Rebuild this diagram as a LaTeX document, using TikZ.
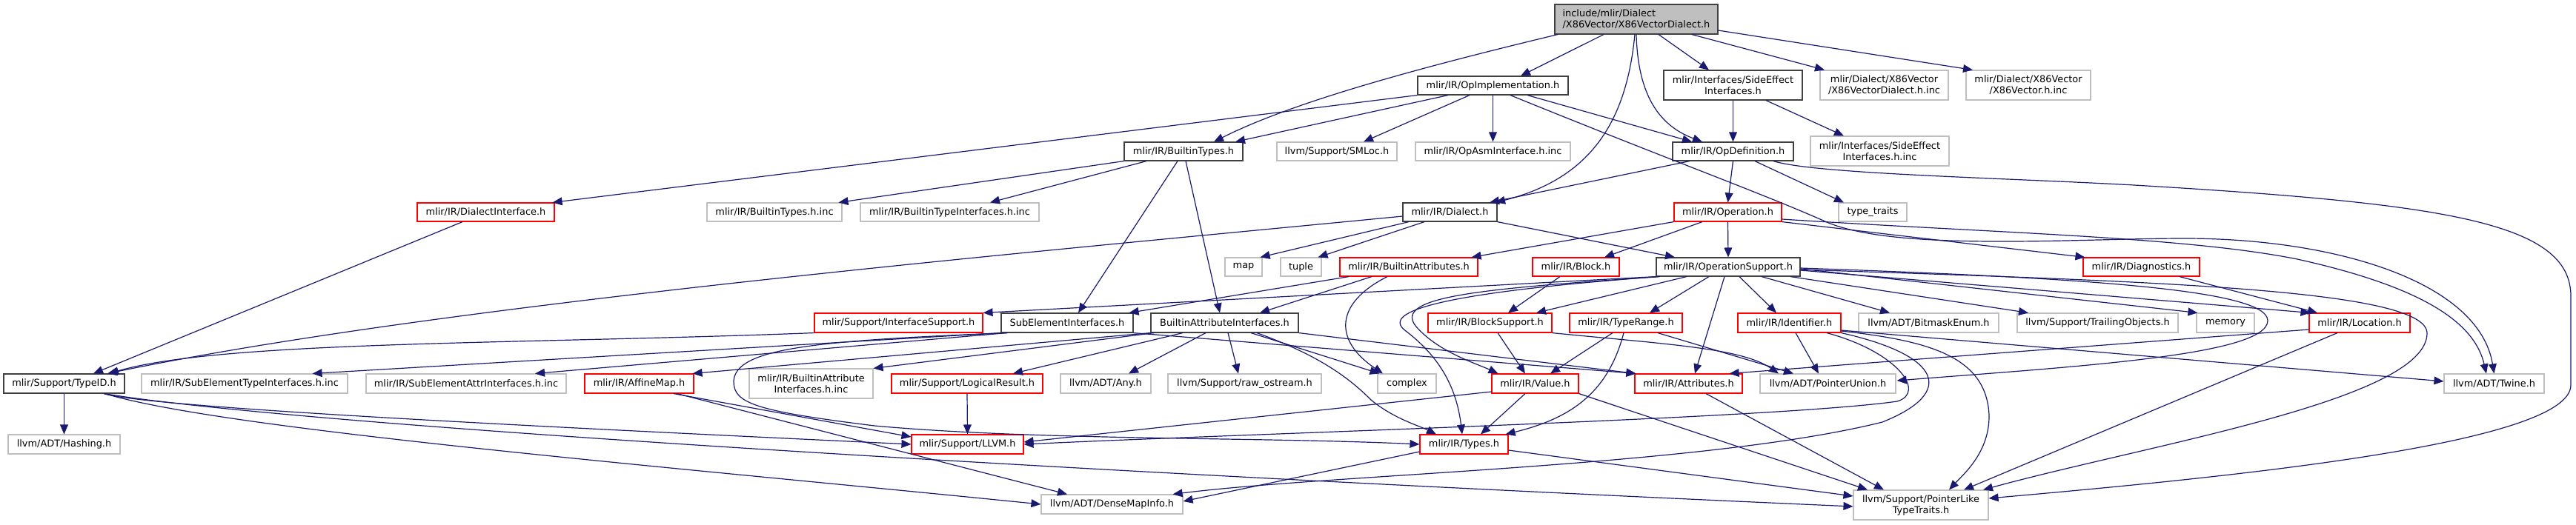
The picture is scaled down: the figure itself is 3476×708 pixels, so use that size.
\documentclass[tikz,border=0pt]{standalone}
\usepackage{fontspec}
\setmainfont{DejaVu Sans}
\usetikzlibrary{arrows.meta,calc}
\definecolor{eb}{HTML}{191970}
\definecolor{gb}{HTML}{BFBFBF}
\definecolor{rb}{HTML}{FF0000}
\definecolor{kb}{HTML}{404040}
\newcommand{\nbox}[7]{\node[#6, minimum width={(#4-#2)*0.5pt}, minimum height={(#5-#3)*0.5pt}] (#1) at ({(#2+#4)/2},{(#3+#5)/2}) {#7};}
\begin{document}
\begin{tikzpicture}[x={(0.5pt,0pt)},y={(0pt,-0.5pt)},
  box/.style={rectangle, inner sep=0pt, line width=0.55pt, fill=white, font=\fontsize{6.45pt}{7.5pt}\selectfont, text=black, align=center},
  kbox/.style={box, draw=kb}, rbox/.style={box, draw=rb}, gbox/.style={box, draw=gb},
  rootbox/.style={box, draw=kb, fill=gb, align=left},
  edge/.style={draw=eb, line width=0.6pt, -{Triangle[length=6.5pt,width=5.4pt]}}]
\useasboundingbox (0,0) rectangle (3476,708);
\fill[white] (0,0) rectangle (3476,708);
% nodes
\nbox{root}{2098}{6}{2318}{46}{rootbox}{include/mlir/Dialect\\/X86Vector/X86VectorDialect.h}
\nbox{opimpl}{1913}{103}{2116}{128}{kbox}{mlir/IR/OpImplementation.h}
\nbox{sideeff}{2245}{95}{2432}{135}{kbox}{mlir/Interfaces/SideEffect\\Interfaces.h}
\nbox{x86dinc}{2456}{95}{2629}{135}{gbox}{mlir/Dialect/X86Vector\\/X86VectorDialect.h.inc}
\nbox{x86inc}{2653}{95}{2821}{135}{gbox}{mlir/Dialect/X86Vector\\/X86Vector.h.inc}
\nbox{builtintypes}{1517}{192}{1677}{217}{kbox}{mlir/IR/BuiltinTypes.h}
\nbox{smloc}{1723}{192}{1885}{217}{gbox}{llvm/Support/SMLoc.h}
\nbox{opasm}{1910}{192}{2119}{217}{gbox}{mlir/IR/OpAsmInterface.h.inc}
\nbox{opdef}{2257}{192}{2420}{217}{kbox}{mlir/IR/OpDefinition.h}
\nbox{seinc}{2443}{184}{2630}{224}{gbox}{mlir/Interfaces/SideEffect\\Interfaces.h.inc}
\nbox{dialectif}{563}{274}{748}{299}{rbox}{mlir/IR/DialectInterface.h}
\nbox{btinc}{954}{274}{1136}{299}{gbox}{mlir/IR/BuiltinTypes.h.inc}
\nbox{btifinc}{1161}{274}{1402}{299}{gbox}{mlir/IR/BuiltinTypeInterfaces.h.inc}
\nbox{dialect}{1893}{274}{2020}{299}{kbox}{mlir/IR/Dialect.h}
\nbox{operation}{2259}{274}{2404}{299}{rbox}{mlir/IR/Operation.h}
\nbox{typetraits}{2481}{274}{2573}{299}{gbox}{type\_traits}
\nbox{map}{1653}{348}{1703}{373}{gbox}{map}
\nbox{tuple}{1728}{348}{1783}{373}{gbox}{tuple}
\nbox{battrs}{1808}{348}{1994}{373}{rbox}{mlir/IR/BuiltinAttributes.h}
\nbox{block}{2068}{348}{2185}{373}{rbox}{mlir/IR/Block.h}
\nbox{opsupport}{2235}{348}{2429}{373}{kbox}{mlir/IR/OperationSupport.h}
\nbox{diag}{2811}{348}{2968}{373}{rbox}{mlir/IR/Diagnostics.h}
\nbox{ifsupport}{1099}{423}{1326}{449}{rbox}{mlir/Support/InterfaceSupport.h}
\nbox{subel}{1351}{423}{1529}{449}{kbox}{SubElementInterfaces.h}
\nbox{baif}{1553}{423}{1752}{449}{kbox}{BuiltinAttributeInterfaces.h}
\nbox{blocksup}{1927}{423}{2094}{449}{rbox}{mlir/IR/BlockSupport.h}
\nbox{typerange}{2118}{423}{2270}{449}{rbox}{mlir/IR/TypeRange.h}
\nbox{ident}{2345}{423}{2484}{449}{rbox}{mlir/IR/Identifier.h}
\nbox{bitmask}{2508}{423}{2697}{449}{gbox}{llvm/ADT/BitmaskEnum.h}
\nbox{trailing}{2722}{423}{2939}{449}{gbox}{llvm/Support/TrailingObjects.h}
\nbox{memory}{2964}{423}{3042}{449}{gbox}{memory}
\nbox{location}{3116}{423}{3252}{449}{rbox}{mlir/IR/Location.h}
\nbox{typeid}{5}{505}{168}{531}{kbox}{mlir/Support/TypeID.h}
\nbox{seltinc}{191}{505}{469}{531}{gbox}{mlir/IR/SubElementTypeInterfaces.h.inc}
\nbox{selainc}{494}{505}{764}{531}{gbox}{mlir/IR/SubElementAttrInterfaces.h.inc}
\nbox{affine}{789}{505}{936}{531}{rbox}{mlir/IR/AffineMap.h}
\nbox{baifinc}{1011}{498}{1178}{538}{gbox}{mlir/IR/BuiltinAttribute\\Interfaces.h.inc}
\nbox{logical}{1203}{505}{1407}{531}{rbox}{mlir/Support/LogicalResult.h}
\nbox{any}{1431}{505}{1553}{531}{gbox}{llvm/ADT/Any.h}
\nbox{rawos}{1576}{505}{1783}{531}{gbox}{llvm/Support/raw\_ostream.h}
\nbox{complex}{1859}{505}{1938}{531}{gbox}{complex}
\nbox{value}{2013}{505}{2130}{531}{rbox}{mlir/IR/Value.h}
\nbox{attrs}{2206}{505}{2351}{531}{rbox}{mlir/IR/Attributes.h}
\nbox{ptrunion}{2375}{505}{2558}{531}{gbox}{llvm/ADT/PointerUnion.h}
\nbox{twine}{3298}{505}{3433}{531}{gbox}{llvm/ADT/Twine.h}
\nbox{hashing}{11}{587}{162}{613}{gbox}{llvm/ADT/Hashing.h}
\nbox{llvmh}{1230}{587}{1381}{613}{rbox}{mlir/Support/LLVM.h}
\nbox{types}{1916}{587}{2035}{613}{rbox}{mlir/IR/Types.h}
\nbox{densemap}{1405}{668}{1596}{694}{gbox}{llvm/ADT/DenseMapInfo.h}
\nbox{ptrlike}{2501}{662}{2683}{702}{gbox}{llvm/Support/PointerLike\\TypeTraits.h}
% root
\draw[edge] ($(root.south)+(-106,0)$) .. controls (1900,95) and (1740,140) .. ($(builtintypes.north)+(41,0)$);
\draw[edge] ($(root.south)+(-44,0)$) -- ($(opimpl.north)+(37.5,0)$);
\draw[edge] ($(root.south)+(-2,0)$) .. controls (2195,160) and (2150,240) .. ($(dialect.north)+(61.5,0)$);
\draw[edge] (root.south) .. controls (2210,130) and (2240,170) .. ($(opdef.north)+(-41.5,0)$);
\draw[edge] ($(root.south)+(30,0)$) -- ($(sideeff.north)+(-32.5,0)$);
\draw[edge] ($(root.south)+(75,0)$) -- ($(x86dinc.north)+(-80.5,0)$);
\draw[edge] ($(root.east)+(0,15)$) -- ($(x86inc.north)+(-75,0)$);
% opimpl
\draw[edge] ($(opimpl.south)+(-60.5,0)$) -- ($(builtintypes.north)+(70,0)$);
\draw[edge] (opimpl.south west) -- ($(dialectif.north east)+(-3,0)$);
\draw[edge] ($(opimpl.south)+(-31.5,0)$) -- ($(smloc.north)+(36,0)$);
\draw[edge] (opimpl.south) -- (opasm.north);
\draw[edge] ($(opimpl.south)+(46.5,0)$) -- ($(opdef.north)+(-55.5,0)$);
\draw[edge] ($(opimpl.south)+(23.5,0)$) .. controls (2250,215) and (2380,262) .. (2465,300) .. controls (2560,340) and (2800,322) .. (2948,322) .. controls (3150,322) and (3345,380) .. (twine.north);
% sideeffect
\draw[edge] (sideeff.south) -- (opdef.north);
\draw[edge] ($(sideeff.south)+(44.5,0)$) -- ($(seinc.north)+(-48.5,0)$);
% opdef
\draw[edge] ($(opdef.south)+(-58.5,0)$) -- ($(dialect.north)+(53.5,0)$);
\draw[edge] (opdef.south) -- (operation.north);
\draw[edge] ($(opdef.south)+(29.5,0)$) -- ($(typetraits.north)+(-39,0)$);
\draw[edge] ($(opdef.south)+(54.5,0)$) .. controls (2450,235) and (2700,240) .. (2880,250) .. controls (3300,275) and (3469,300) .. (3469,400) -- (3469,520) .. controls (3469,600) and (3000,645) .. ($(ptrlike.east)+(0,-9)$);
% dialect
\draw[edge] ($(dialect.west)+(0,5.5)$) .. controls (1400,340) and (600,410) .. ($(typeid.north)+(58.5,0)$);
\draw[edge] ($(dialect.south)+(-55.5,0)$) -- ($(map.north east)+(-3,0)$);
\draw[edge] ($(dialect.south)+(-34.5,0)$) -- ($(tuple.north east)+(-5,0)$);
\draw[edge] (dialect.south east) -- ($(opsupport.north)+(-72,0)$);
% operation
\draw[edge] (operation.south west) -- ($(battrs.north east)+(-9,0)$);
\draw[edge] ($(operation.south)+(-34.5,0)$) -- ($(block.north)+(38.5,0)$);
\draw[edge] (operation.south) -- (opsupport.north);
\draw[edge] (operation.south east) -- ($(diag.north west)+(3,0)$);
\draw[edge] ($(operation.east)+(0,9.5)$) .. controls (2700,315) and (2950,320) .. (3100,350) .. controls (3280,390) and (3340,440) .. ($(twine.north)+(-10.5,0)$);
% builtinattributes
\draw[edge] ($(battrs.south)+(-81,0)$) -- ($(subel.north east)+(-6,0)$);
\draw[edge] ($(battrs.south)+(-50,0)$) -- ($(baif.north)+(47.5,0)$);
\draw[edge] ($(battrs.south)+(-29,0)$) .. controls (1800,410) and (1800,460) .. ($(complex.north)+(-32.5,0)$);
% block
\draw[edge] ($(block.south)+(-21.5,0)$) -- ($(blocksup.north)+(24.5,0)$);
% operation support
\draw[edge] (opsupport.south west) -- (ifsupport.north east);
\draw[edge] ($(opsupport.south)+(-56,0)$) -- ($(blocksup.north)+(62.5,0)$);
\draw[edge] ($(opsupport.south)+(-26,0)$) -- ($(typerange.north)+(32,0)$);
\draw[edge] ($(opsupport.south)+(-5,0)$) -- ($(attrs.north)+(8.5,0)$);
\draw[edge] ($(opsupport.south)+(-92,0)$) .. controls (2000,390) and (1880,400) .. (1910,440) .. controls (1940,475) and (1990,490) .. ($(value.north west)+(9,0)$);
\draw[edge] ($(opsupport.south)+(-94,0)$) .. controls (1950,395) and (1860,420) .. (1897,447) .. controls (1940,480) and (1965,520) .. ($(types.north)+(-2.5,0)$);
\draw[edge] ($(opsupport.south)+(15,0)$) -- ($(ident.north)+(-17.5,0)$);
\draw[edge] ($(opsupport.south)+(45,0)$) -- ($(bitmask.north)+(-52.5,0)$);
\draw[edge] ($(opsupport.south)+(84,0)$) -- ($(trailing.north)+(-93.5,0)$);
\draw[edge] ($(opsupport.east)+(0,2.5)$) -- ($(memory.north west)+(2,0)$);
\draw[edge] ($(opsupport.east)+(0,4.5)$) -- ($(location.north west)+(2,0)$);
\draw[edge] ($(opsupport.east)+(0,1.5)$) .. controls (2800,375) and (3060,390) .. (3060,433) .. controls (3060,480) and (2800,495) .. ($(ptrunion.east)+(1,-4)$);
\draw[edge] ($(opsupport.east)+(0,3.5)$) .. controls (2900,380) and (3275,390) .. (3275,450) .. controls (3275,540) and (2900,600) .. ($(ptrlike.north)+(84,0)$);
% diagnostics
\draw[edge] ($(diag.south)+(51.5,0)$) -- ($(location.north)+(-57,0)$);
% interface support
\draw[edge] (ifsupport.south west) .. controls (700,465) and (300,460) .. ($(typeid.north)+(60.5,0)$);
% subelement interfaces
\draw[edge] (subel.south west) -- ($(seltinc.north east)+(-48,0)$);
\draw[edge] ($(subel.south)+(-81,0)$) -- ($(selainc.north)+(93,0)$);
\draw[edge] (subel.south east) -- ($(attrs.north west)+(2,0)$);
\draw[edge] ($(subel.south)+(-80,0)$) .. controls (1100,460) and (992,470) .. (990,515) .. controls (990,545) and (1020,555) .. (1180,575) .. controls (1400,595) and (1700,590) .. (types.west);
% builtin attribute interfaces
\draw[edge] (baif.south west) -- ($(affine.north east)+(-2,0)$);
\draw[edge] ($(baif.south)+(-56.5,0)$) -- ($(logical.north)+(62,0)$);
\draw[edge] ($(baif.south)+(-25.5,0)$) -- ($(any.north)+(31,0)$);
\draw[edge] ($(baif.south)+(4.5,0)$) -- ($(rawos.north)+(-8.5,0)$);
\draw[edge] ($(baif.south)+(35.5,0)$) -- ($(complex.north west)+(3,0)$);
\draw[edge] ($(baif.south)+(43.5,0)$) .. controls (1780,480) and (1820,510) .. (1850,540) .. controls (1880,565) and (1915,575) .. ($(types.north)+(-37.5,0)$);
\draw[edge] (baif.south east) -- ($(attrs.north west)+(2,0)$);
\draw[edge] ($(baif.south west)+(5,0)$) -- (baifinc.north east);
% block support
\draw[edge] ($(blocksup.south)+(10.5,0)$) -- ($(value.north)+(-13.5,0)$);
\draw[edge] (blocksup.south east) .. controls (2250,465) and (2350,470) .. ($(ptrunion.north)+(-66.5,0)$);
% type range
\draw[edge] ($(typerange.south)+(-18,0)$) -- ($(value.north)+(20.5,0)$);
\draw[edge] ($(typerange.south)+(-3,0)$) .. controls (2170,530) and (2120,565) .. ($(types.north east)+(-4,0)$);
\draw[edge] ($(typerange.south)+(43,0)$) -- ($(ptrunion.north)+(-46.5,0)$);
% identifier
\draw[edge] ($(ident.south)+(8.5,0)$) -- ($(ptrunion.north)+(-12.5,0)$);
\draw[edge] ($(ident.south)+(50.5,0)$) .. controls (2560,475) and (2600,530) .. (2560,542) .. controls (2400,565) and (1700,585) .. (llvmh.east);
\draw[edge] (ident.south east) .. controls (2620,480) and (2640,530) .. (2540,570) .. controls (2300,630) and (1800,640) .. ($(densemap.north east)+(-14,0)$);
\draw[edge] ($(ident.east)+(0,11)$) .. controls (2600,460) and (2680,480) .. (2684,560) .. controls (2685,610) and (2650,640) .. ($(ptrlike.north)+(38,0)$);
\draw[edge] ($(ident.east)+(0,10)$) -- ($(twine.west)+(0,-3)$);
% location
\draw[edge] ($(location.west)+(0,9)$) -- ($(attrs.north east)+(-18,0)$);
\draw[edge] ($(location.south)+(-30,0)$) -- ($(ptrlike.north)+(58,0)$);
% attributes
\draw[edge] ($(attrs.south)+(23.5,0)$) -- ($(ptrlike.north)+(-50,0)$);
% value
\draw[edge] ($(value.west)+(0,11)$) -- ($(llvmh.east)+(0,-3)$);
\draw[edge] ($(value.south)+(-13.5,0)$) -- ($(types.north)+(22.5,0)$);
\draw[edge] (value.south east) -- ($(ptrlike.north)+(-72,0)$);
% types
\draw[edge] ($(types.west)+(0,10)$) -- ($(densemap.east)+(0,-4)$);
\draw[edge] ($(types.east)+(0,8)$) -- ($(ptrlike.west)+(0,-12)$);
% typeid
\draw[edge] (typeid.south) -- (hashing.north);
\draw[edge] ($(typeid.south)+(53.5,0)$) .. controls (200,550) and (700,575) .. (llvmh.west);
\draw[edge] ($(typeid.south)+(54,0)$) .. controls (400,575) and (1500,640) .. ($(ptrlike.west)+(0,2)$);
\draw[edge] ($(typeid.south)+(55,0)$) .. controls (300,580) and (900,630) .. (densemap.west);
% affine map
\draw[edge] ($(affine.south)+(46.5,0)$) -- ($(llvmh.west)+(0,-10)$);
\draw[edge] ($(affine.south)+(51,0)$) -- ($(densemap.north)+(-60.5,0)$);
% logical result
\draw[edge] (logical.south) -- (llvmh.north);
% builtin types
\draw[edge] (builtintypes.south west) -- ($(btinc.north east)+(-5,0)$);
\draw[edge] ($(builtintypes.south)+(-50,0)$) -- ($(btifinc.north)+(54.5,0)$);
\draw[edge] ($(builtintypes.south)+(-8,0)$) -- ($(subel.north)+(15,0)$);
\draw[edge] ($(builtintypes.south)+(3,0)$) -- ($(baif.north)+(-6.5,0)$);
% dialect interface
\draw[edge] ($(dialectif.south)+(-31.5,0)$) -- ($(typeid.north)+(39.5,0)$);
\end{tikzpicture}
\end{document}
